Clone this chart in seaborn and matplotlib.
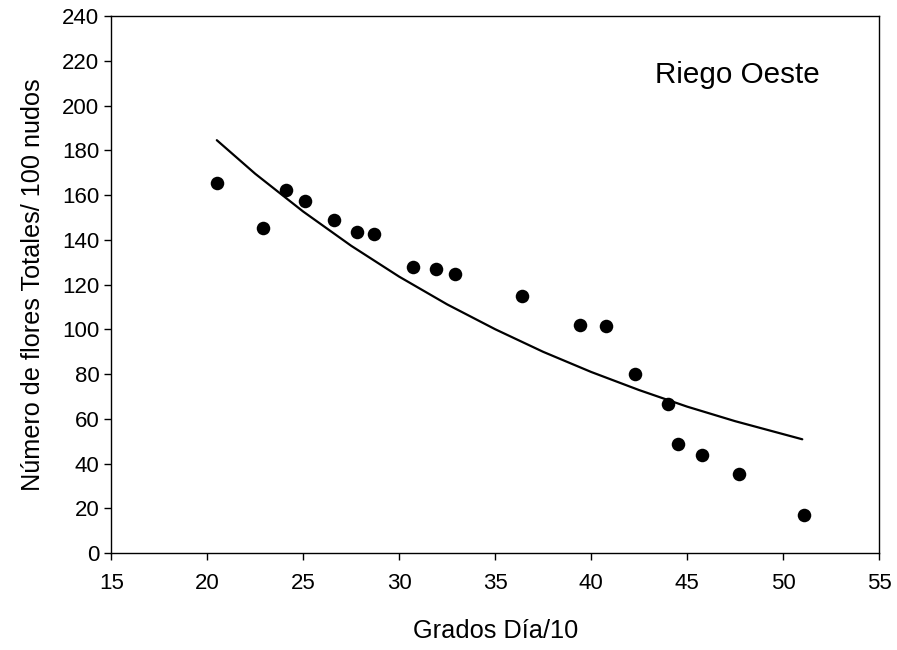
import pandas as pd
import seaborn as sns
import matplotlib
matplotlib.use("Agg")
import matplotlib.pyplot as plt

# Puntos observados
grados = [20.5, 22.9, 24.1, 25.1, 26.6, 27.8, 28.7, 30.7, 31.9, 32.9, 36.4,
          39.4, 40.8, 42.3, 44.0, 44.5, 45.8, 47.7, 51.1]
flores = [165.5, 145.5, 162.5, 157.5, 149, 143.5, 142.5, 128, 127, 125, 115,
          102, 101.5, 80, 66.5, 49, 44, 35.5, 17]

# Curva ajustada
curva_x = [20.5, 22.5, 25, 27.5, 30, 32.5, 35, 37.5, 40, 42.5, 45, 47.5, 51]
curva_y = [184.6, 169.6, 152.7, 137.4, 123.6, 111.2, 100.1, 90.0, 81.0, 72.9,
           65.5, 59.0, 50.9]

puntos = pd.DataFrame({"x": grados, "y": flores})
ajuste = pd.DataFrame({"x": curva_x, "y": curva_y})

sns.set_style("ticks")
plt.rcParams["font.family"] = ["Liberation Sans", "DejaVu Sans"]

fig = plt.figure(figsize=(8.97, 6.5), dpi=100)
ax = fig.add_axes([0.124, 0.149, 0.856, 0.826])

sns.lineplot(data=ajuste, x="x", y="y", color="black", linewidth=1.6, ax=ax)
sns.scatterplot(data=puntos, x="x", y="y", color="black", s=95,
                edgecolor="black", linewidth=0, zorder=3, ax=ax)

ax.set_xlim(15, 55)
ax.set_ylim(0, 240)
ax.set_xticks(range(15, 56, 5))
ax.set_yticks(range(0, 241, 20))
ax.tick_params(direction="out", length=5, width=1, labelsize=16, colors="black")
ax.tick_params(axis="x", pad=9)
for s in ax.spines.values():
    s.set_linewidth(1)
    s.set_color("black")

ax.set_xlabel("Grados Día/10", fontsize=18.3, color="black")
ax.set_ylabel("Número de flores Totales/ 100 nudos", fontsize=18.2, color="black")
ax.xaxis.set_label_coords(0.5, -0.123)
ax.yaxis.set_label_coords(-0.086, 0.5)
ax.text(0.708, 0.89, "Riego Oeste", transform=ax.transAxes, fontsize=21.3,
        va="center", color="black")

fig.savefig("out.png", dpi=100)
